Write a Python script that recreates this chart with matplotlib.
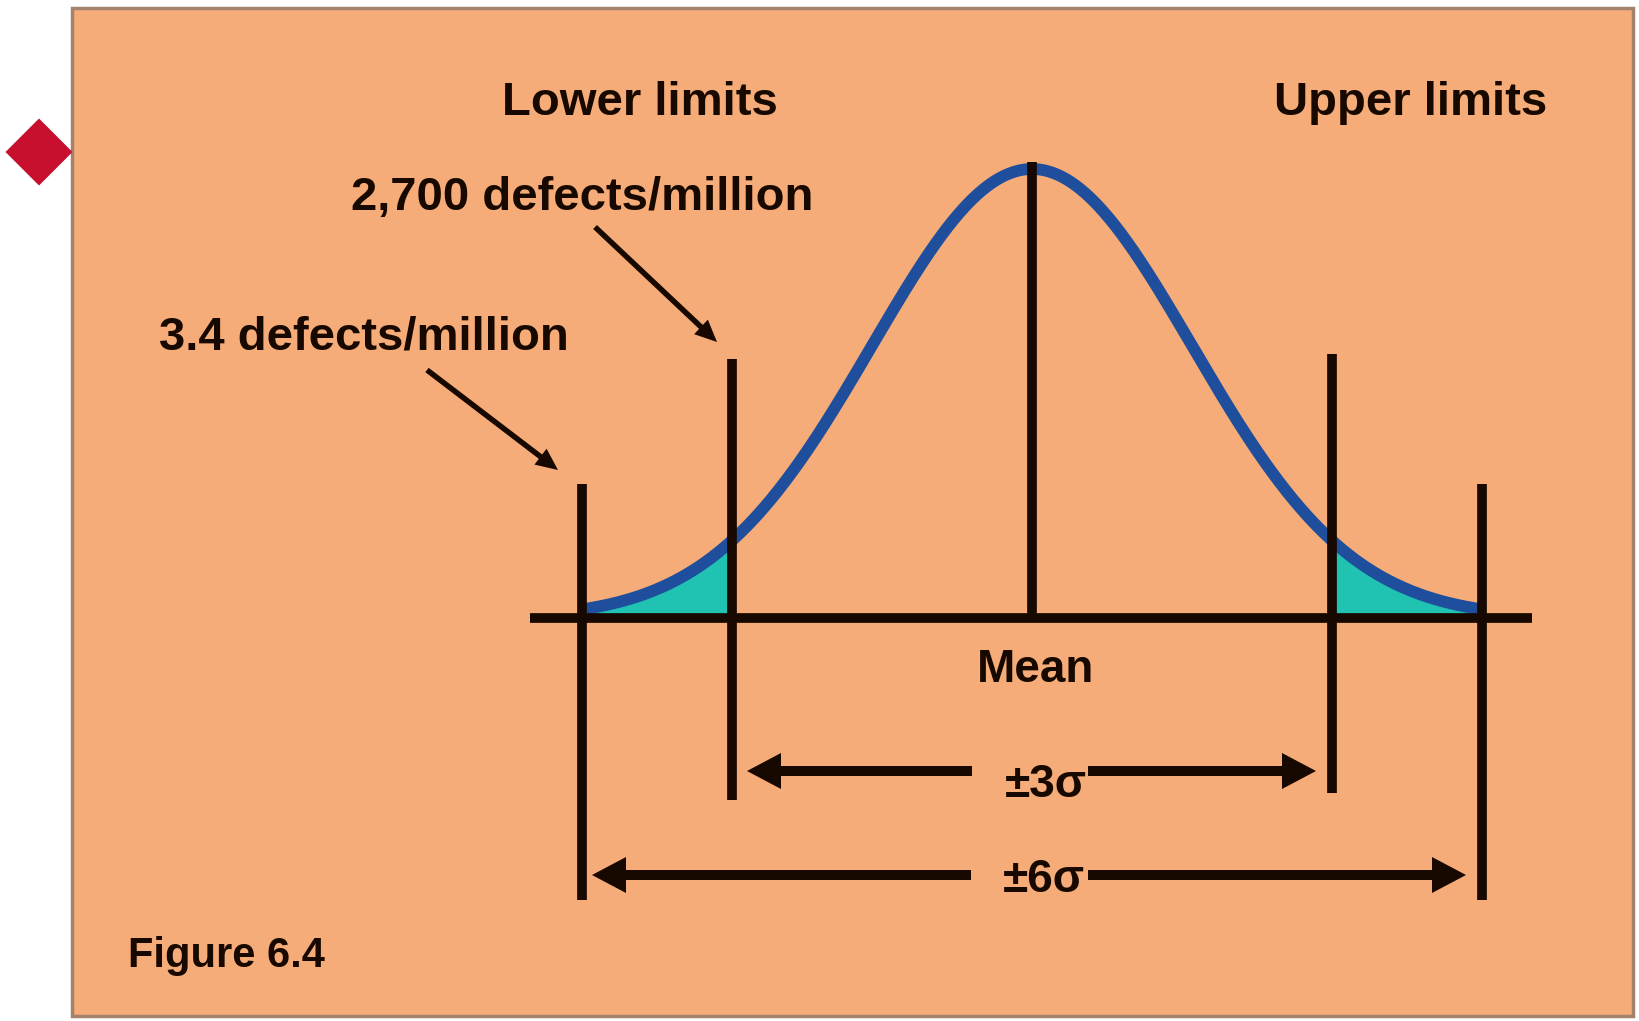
import numpy as np
import matplotlib
matplotlib.use("Agg")
import matplotlib.pyplot as plt
from matplotlib.patches import Rectangle, Polygon

plt.rcParams['font.family'] = ['Liberation Sans', 'DejaVu Sans']

# ---- data (diagram units, 1 unit ~ 100 px) ----
curve_mean = 0.0
curve_sigma = 1.6
curve_peak = 4.49
curve_span = (-4.5, 4.5)

limit_names = ["-6σ", "-3σ", "Mean", "+3σ", "+6σ"]
limit_pos = [-4.5, -3.0, 0.0, 3.0, 4.5]
limit_top = [1.34, 2.59, 4.56, 2.64, 1.34]
limit_bottom = [-2.82, -1.82, 0.0, -1.75, -2.82]

tail_ranges = [(-4.5, -3.0), (3.0, 4.5)]

span_labels = ["±3σ", "±6σ"]
span_y = [-1.53, -2.57]
span_left_tip = [-2.85, -4.40]
span_right_tip = [2.84, 4.34]
span_gap = [(-0.60, 0.56), (-0.61, 0.56)]
span_text_x = [0.14, 0.12]
span_text_base = [-1.79, -2.74]

header_labels = ["Lower limits", "Upper limits"]
header_x = [-3.92, 3.79]
header_base = 5.03

defect_labels = ["2,700 defects/million", "3.4 defects/million"]
defect_text_x = [-4.50, -6.68]
defect_text_base = [4.08, 2.68]
defect_arrow_from = [(-4.37, 3.91), (-6.05, 2.48)]
defect_arrow_to = [(-3.15, 2.76), (-4.74, 1.48)]

mean_label = "Mean"
figure_label = "Figure 6.4"

# ---- figure ----
W, H = 1640, 1021
fig = plt.figure(figsize=(W / 100, H / 100), dpi=100)
ax = fig.add_axes([0, 0, 1, 1])
x0, y0 = -10.32, -4.03
ax.set_xlim(x0, x0 + W / 100)
ax.set_ylim(y0, y0 + H / 100)
ax.axis('off')
fig.patch.set_facecolor('white')

panel_fc = '#f6ac78'
ink = '#170800'

# panel
ax.add_patch(Rectangle((-9.60, -3.98), 15.61, 10.08, facecolor=panel_fc,
                       edgecolor='#a3836c', lw=2.5, zorder=0))
# bullet diamond
cx, cy, r = -9.93, 4.66, 0.335
ax.add_patch(Polygon([(cx - r, cy), (cx, cy + r), (cx + r, cy), (cx, cy - r)],
                     closed=True, facecolor='#c8102e', edgecolor='none', zorder=1))

# curve
xs = np.linspace(curve_span[0], curve_span[1], 600)
ys = curve_peak * np.exp(-0.5 * ((xs - curve_mean) / curve_sigma) ** 2)
for a, b in tail_ranges:
    m = (xs >= a - 1e-9) & (xs <= b + 1e-9)
    ax.fill_between(xs[m], 0, ys[m], color='#20c2b2', lw=0, zorder=1.5)
ax.plot(xs, ys, color='#1f4f9c', lw=8.5, solid_capstyle='butt', zorder=2)

# baseline and limit lines
ax.plot([-5.02, 5.00], [0, 0], color=ink, lw=7, solid_capstyle='butt', zorder=3)
for p, t, b in zip(limit_pos, limit_top, limit_bottom):
    ax.plot([p, p], [b, t], color=ink, lw=7, solid_capstyle='butt', zorder=3)

# span arrows
for lab, y, lt, rt, (g0, g1), tx, tb in zip(span_labels, span_y, span_left_tip,
                                             span_right_tip, span_gap, span_text_x,
                                             span_text_base):
    ax.arrow(g0, y, lt - g0, 0, width=0.10, head_width=0.36, head_length=0.34,
             length_includes_head=True, color=ink, lw=0, zorder=3)
    ax.arrow(g1, y, rt - g1, 0, width=0.10, head_width=0.36, head_length=0.34,
             length_includes_head=True, color=ink, lw=0, zorder=3)
    ax.text(tx, tb, lab, ha='center', va='baseline', fontsize=33,
            fontweight='bold', color=ink, zorder=4)

# headers
for lab, x in zip(header_labels, header_x):
    ax.text(x, header_base, lab, ha='center', va='baseline', fontsize=34,
            fontweight='bold', color=ink)

# defect annotations
for lab, tx, tb, (fx, fy), (ex, ey) in zip(defect_labels, defect_text_x,
                                           defect_text_base, defect_arrow_from,
                                           defect_arrow_to):
    ax.text(tx, tb, lab, ha='center', va='baseline', fontsize=34,
            fontweight='bold', color=ink)
    ax.arrow(fx, fy, ex - fx, ey - fy, width=0.055, head_width=0.2,
             head_length=0.22, length_includes_head=True, color=ink, lw=0,
             zorder=3)

ax.text(0.04, -0.64, mean_label, ha='center', va='baseline', fontsize=33,
        fontweight='bold', color=ink)
ax.text(-9.04, -3.49, figure_label, ha='left', va='baseline', fontsize=30,
        fontweight='bold', color=ink)

fig.savefig('out.png', dpi=100, facecolor='white')
